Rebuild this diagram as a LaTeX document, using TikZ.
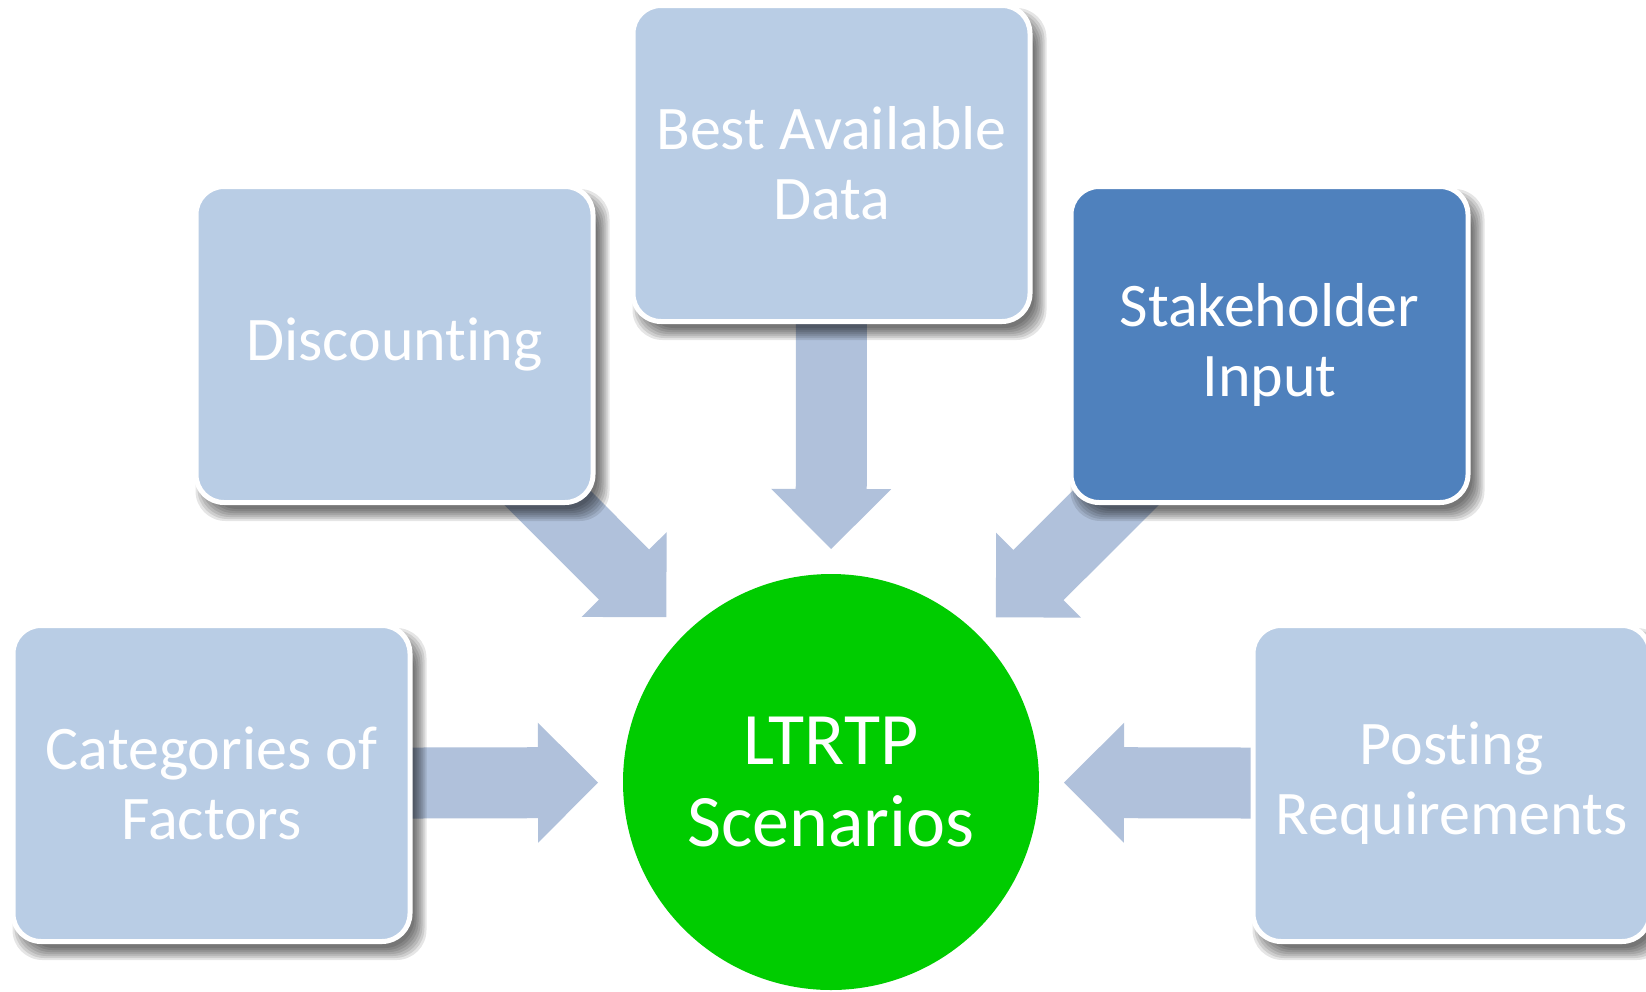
\documentclass[tikz,border=0pt]{standalone}
\usepackage{fontspec}
\setmainfont{Carlito}[Ligatures={NoCommon}]
\usetikzlibrary{calc}
\definecolor{boxblue}{HTML}{B9CDE5}
\definecolor{darkblue}{HTML}{4F81BD}
\definecolor{arrowcol}{HTML}{B0C1DB}
\definecolor{ltgreen}{HTML}{00CC00}
\pgfdeclarelayer{paper}
\pgfdeclarelayer{under}
\pgfdeclarelayer{shade}
\pgfsetlayers{paper,under,shade,main}
\tikzset{
  boxnode/.style={rectangle, rounded corners=28pt, minimum width=397pt, minimum height=316pt,
    draw=white, line width=5pt, fill=boxblue, text=white, align=center, inner sep=0pt,
    font=\fontsize{62}{70}\selectfont},
  darkbox/.style={boxnode, fill=darkblue},
  hubnode/.style={circle, minimum size=416pt, inner sep=0pt, fill=ltgreen, text=white,
    align=center, font=\fontsize{74}{82}\selectfont},
  arrowfill/.style={fill=arrowcol},
  shadelayer/.style={fill=black, opacity=0.1, rounded corners=30pt}
}
\newcommand\blockarr[2]{%
  \coordinate (bah) at ($(#2)!60pt!(#1.center)$);
  \fill[arrowfill] ($(#1.center)!35.5pt!90:(#2)$) -- ($(bah)!35.5pt!90:(#2)$) -- ($(bah)!60pt!90:(#2)$)
    -- (#2) -- ($(bah)!60pt!-90:(#2)$) -- ($(bah)!35.5pt!-90:(#2)$) -- ($(#1.center)!35.5pt!-90:(#2)$) -- cycle;}
\newcommand\shadowfor[1]{%
  \foreach \s in {0,2,...,12}{%
    \fill[shadelayer] ($(#1.north west)+(14-\s,17-\s)$) rectangle ($(#1.south east)+(2+\s,4+\s)$);}}
\begin{document}
\begin{tikzpicture}[x=1pt,y=-1pt]
\useasboundingbox (0,0) rectangle (1646,991);
\begin{pgfonlayer}{paper}
\fill[white] (0,0) rectangle (1646,991);
\end{pgfonlayer}
\node[hubnode] (hub) at (831,782) {LTRTP\\Scenarios};
\node[boxnode] (best) at (831.5,163.5) {Best Available\\Data};
\node[boxnode] (disc) at (394.5,344.5) {Discounting};
\node[darkbox] (stake) at (1269.5,344.5) {Stakeholder\\Input};
\node[boxnode] (cat) at (211.5,783.5) {Categories of\\Factors};
\node[boxnode] (post) at (1451.5,783.5) {Posting\\Requirements};
\coordinate (tbest) at ($(hub.center)!233pt!(best.center)$);
\coordinate (tdisc) at ($(hub.center)!233pt!(disc.center)$);
\coordinate (tstake) at ($(hub.center)!233pt!(stake.center)$);
\coordinate (tcat) at ($(hub.center)!233pt!(cat.center)$);
\coordinate (tpost) at ($(hub.center)!233pt!(post.center)$);
\begin{pgfonlayer}{under}
\blockarr{best}{tbest}
\blockarr{disc}{tdisc}
\blockarr{stake}{tstake}
\blockarr{cat}{tcat}
\blockarr{post}{tpost}
\end{pgfonlayer}
\begin{pgfonlayer}{shade}
\shadowfor{best}
\shadowfor{disc}
\shadowfor{stake}
\shadowfor{cat}
\shadowfor{post}
\end{pgfonlayer}
\end{tikzpicture}
\end{document}
